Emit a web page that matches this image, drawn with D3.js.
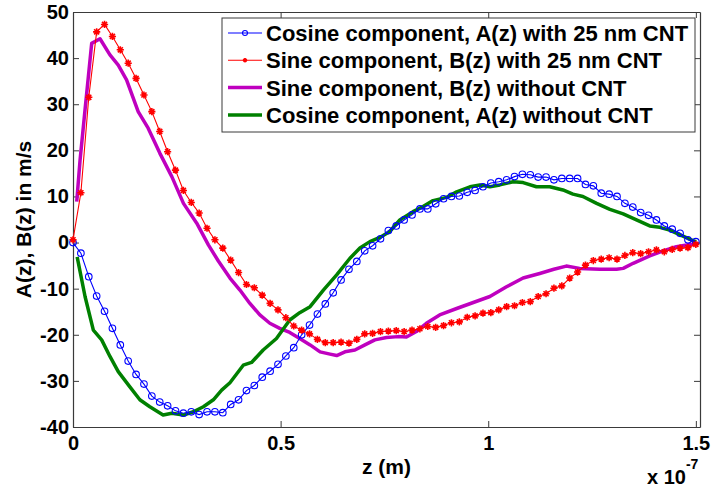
<!DOCTYPE html>
<html>
<head>
<meta charset="utf-8">
<script src="https://cdn.jsdelivr.net/npm/d3@7"></script>
<style>
  body { margin: 0; background: #fff; }
  text { font-family: "Liberation Sans", Arial, sans-serif; font-weight: bold; }
</style>
</head>
<body>
<div class="chart"></div>
<script>
// z values are in units of 1e-7 m
var cosCnt = [0, -2.3, -7.4, -11.6, -14.9, -18.6, -22.2, -25.7, -28.6, -30.7,
  -33.3, -34.6, -35.4, -36.5, -37.0, -36.7, -37.3, -36.7, -36.7, -36.9,
  -35.1, -34.1, -32.1, -31.0, -29.2, -27.9, -26.4, -24.6, -22.8, -20.0,
  -17.9, -15.5, -13.3, -10.9, -8.1, -5.8, -4.1, -1.8, -0.7, 0.8,
  2.6, 3.6, 4.9, 6.0, 7.3, 7.3, 8.4, 9.5, 10.0, 10.1,
  10.9, 11.3, 12.1, 12.9, 13.2, 13.6, 14.3, 14.8, 14.7, 14.2,
  14.2, 13.6, 13.9, 13.9, 13.9, 12.6, 12.3, 10.7, 10.5, 10.0,
  8.5, 7.7, 6.5, 5.9, 4.9, 3.6, 2.9, 2.0, 0.6, 0.2];

var sinCnt = [0.6, 10.8, 31.5, 45.7, 47.3, 44.7, 41.8, 38.9, 35.6, 32.0,
  28.4, 24.1, 19.7, 15.7, 11.3, 8.7, 6.4, 3.1, 0.6, -1.2,
  -3.8, -6.5, -9.1, -9.8, -11.4, -13.2, -14.6, -16.3, -18.1, -19.0,
  -19.8, -21.0, -21.7, -21.7, -21.6, -21.8, -21.0, -19.8, -19.7, -19.3,
  -19.2, -19.1, -19.3, -19.0, -18.7, -18.2, -18.4, -18.0, -17.4, -17.2,
  -16.2, -15.9, -15.3, -15.2, -14.6, -13.9, -13.7, -13.0, -12.8, -11.7,
  -11.1, -9.9, -9.4, -7.7, -6.4, -4.9, -3.9, -3.6, -3.3, -3.6,
  -2.8, -2.2, -2.4, -2.0, -1.6, -2.0, -1.5, -1.2, -1.1, -0.4];

// sample grid of the CNT runs: 80 points from 0 to 1.5
var zCnt = d3.range(cosCnt.length).map(i => i * 1.5 / (cosCnt.length - 1));

var zSinNo = [0.009, 0.017, 0.029, 0.037, 0.045, 0.065, 0.089, 0.109, 0.129, 0.157,
  0.181, 0.209, 0.238, 0.266, 0.298, 0.326, 0.350, 0.378, 0.402, 0.426,
  0.450, 0.474, 0.498, 0.522, 0.546, 0.571, 0.595, 0.619, 0.635, 0.655,
  0.679, 0.703, 0.727, 0.755, 0.783, 0.803, 0.827, 0.851, 0.883, 0.924,
  0.964, 1.004, 1.044, 1.084, 1.124, 1.158, 1.188, 1.220, 1.269, 1.309,
  1.325, 1.349, 1.389, 1.421, 1.453, 1.485, 1.503];
var sinNo = [8.9, 17.9, 28.8, 36.0, 43.2, 44.2, 40.7, 38.5, 35.3, 28.4,
  24.8, 19.4, 14.3, 8.5, 4.2, -0.5, -4.0, -7.7, -10.3, -13.2,
  -15.7, -17.5, -18.6, -19.5, -20.8, -22.2, -23.7, -24.2, -24.5, -23.7,
  -23.3, -22.2, -21.1, -20.6, -20.4, -20.5, -19.3, -17.5, -15.7, -14.3,
  -13.0, -11.7, -9.6, -7.7, -6.7, -5.8, -5.1, -5.6, -5.8, -5.8,
  -5.6, -4.5, -2.9, -1.8, -0.9, -0.4, -0.3];

var zCosNo = [0.010, 0.029, 0.049, 0.069, 0.089, 0.109, 0.137, 0.161, 0.185, 0.217,
  0.238, 0.266, 0.290, 0.314, 0.338, 0.358, 0.378, 0.410, 0.430, 0.458,
  0.490, 0.522, 0.546, 0.571, 0.603, 0.635, 0.667, 0.691, 0.715, 0.739,
  0.763, 0.787, 0.819, 0.843, 0.867, 0.900, 0.924, 0.956, 0.980, 1.004,
  1.028, 1.060, 1.084, 1.116, 1.148, 1.180, 1.204, 1.228, 1.261, 1.293,
  1.325, 1.357, 1.389, 1.413, 1.437, 1.469, 1.493, 1.501];
var cosNo = [-3.1, -11.7, -19.0, -21.1, -24.7, -28.0, -31.3, -34.1, -35.6, -37.4,
  -37.0, -37.4, -36.7, -35.6, -34.1, -32.0, -30.4, -26.6, -26.0, -23.3,
  -20.8, -16.8, -15.2, -13.9, -10.3, -7.0, -3.4, -1.2, 0.2, 1.1,
  2.4, 4.9, 6.7, 7.8, 9.1, 9.8, 11.0, 12.1, 12.5, 12.1,
  12.5, 13.2, 13.0, 12.1, 12.1, 11.4, 10.5, 10.0, 8.5, 7.2,
  6.2, 4.9, 3.6, 3.3, 2.7, 1.4, 0.4, 0.2];

var xTicks = [0, 0.5, 1, 1.5];
var yTicks = [-40, -30, -20, -10, 0, 10, 20, 30, 40, 50];
var legendLabels = [
  "Cosine component, A(z) with 25 nm CNT",
  "Sine component, B(z) with 25 nm CNT",
  "Sine component, B(z) without CNT",
  "Cosine component, A(z) without CNT"
];

var width = 711, height = 488;
var mLeft = 73, mRight = 700, mTop = 12, mBottom = 427;

var svg = d3.select(".chart").append("svg")
  .attr("width", width)
  .attr("height", height);

svg.append("rect").attr("width", width).attr("height", height).attr("fill", "#fff");

var x = d3.scaleLinear().domain([0, 1.51]).range([mLeft, mRight]);
var y = d3.scaleLinear().domain([-40, 50]).range([mBottom, mTop]);

// plain hyphen for negatives, like the original
var plainNum = d => String(d);

// axes, MATLAB style: ticks pointing inward, box all round
var axisColor = "#3a3a3a";
var gx = svg.append("g").attr("transform", `translate(0,${mBottom})`)
  .call(d3.axisBottom(x).tickValues(xTicks).tickFormat(plainNum).tickSizeInner(-6).tickSizeOuter(0).tickPadding(9));
var gy = svg.append("g").attr("transform", `translate(${mLeft},0)`)
  .call(d3.axisLeft(y).tickValues(yTicks).tickFormat(plainNum).tickSizeInner(-6).tickSizeOuter(0).tickPadding(4));
var gt = svg.append("g").attr("transform", `translate(0,${mTop})`)
  .call(d3.axisTop(x).tickValues(xTicks).tickFormat("").tickSizeInner(-6).tickSizeOuter(0));
var gr = svg.append("g").attr("transform", `translate(${mRight},0)`)
  .call(d3.axisRight(y).tickValues(yTicks).tickFormat("").tickSizeInner(-6).tickSizeOuter(0));

[gx, gy, gt, gr].forEach(g => {
  g.select(".domain").attr("stroke", axisColor).attr("stroke-width", 1.2);
  g.selectAll(".tick line").attr("stroke", axisColor);
  g.selectAll(".tick text").attr("fill", "#000").style("font-size", "20px")
    .style("font-family", '"Liberation Sans", Arial, sans-serif').style("font-weight", "bold");
});

// axis labels
svg.append("text").attr("x", (mLeft + mRight) / 2).attr("y", 474)
  .attr("text-anchor", "middle").style("font-size", "21px").text("z (m)");

var mult = svg.append("text").attr("x", 647).attr("y", 484).style("font-size", "20px");
mult.append("tspan").text("x 10");
mult.append("tspan").attr("dy", -15).style("font-size", "14px").text("-7");

svg.append("text")
  .attr("transform", `translate(31,${(mTop + mBottom) / 2}) rotate(-90)`)
  .attr("text-anchor", "middle").style("font-size", "21px")
  .text("A(z), B(z) in m/s");

// lines
var plot = svg.append("g");
var line = d3.line().x(d => x(d[0])).y(d => y(d[1]));

var cosCntPts = zCnt.map((z, i) => [z, cosCnt[i]]);
var sinCntPts = zCnt.map((z, i) => [z, sinCnt[i]]);
var sinNoPts = zSinNo.map((z, i) => [z, sinNo[i]]);
var cosNoPts = zCosNo.map((z, i) => [z, cosNo[i]]);

var star = r => `M${-r},0H${r}M0,${-r}V${r}M${-r * 0.7},${-r * 0.7}L${r * 0.7},${r * 0.7}M${-r * 0.7},${r * 0.7}L${r * 0.7},${-r * 0.7}`;

plot.append("path").attr("d", line(sinNoPts)).attr("fill", "none")
  .attr("stroke", "#bf00bf").attr("stroke-width", 3.5).attr("stroke-linejoin", "round");
plot.append("path").attr("d", line(cosNoPts)).attr("fill", "none")
  .attr("stroke", "#008000").attr("stroke-width", 3.5).attr("stroke-linejoin", "round");

plot.append("path").attr("d", line(cosCntPts)).attr("fill", "none")
  .attr("stroke", "#0000ff").attr("stroke-width", 1.1);
plot.selectAll(".circ").data(cosCntPts).enter().append("circle")
  .attr("cx", d => x(d[0])).attr("cy", d => y(d[1])).attr("r", 3.3)
  .attr("fill", "none").attr("stroke", "#0000ff").attr("stroke-width", 1.1);

plot.append("path").attr("d", line(sinCntPts)).attr("fill", "none")
  .attr("stroke", "#ff0000").attr("stroke-width", 1.1);
plot.selectAll(".star").data(sinCntPts).enter().append("path")
  .attr("transform", d => `translate(${x(d[0])},${y(d[1])})`)
  .attr("d", star(3.6)).attr("stroke", "#ff0000").attr("stroke-width", 1.6).attr("fill", "none");

// legend
var legend = svg.append("g");
legend.append("rect").attr("x", 222).attr("y", 18).attr("width", 473).attr("height", 114)
  .attr("fill", "#fff").attr("stroke", axisColor).attr("stroke-width", 1);

var legendStyle = [
  { color: "#0000ff", w: 1.1, mark: "circle" },
  { color: "#ff0000", w: 1.1, mark: "star" },
  { color: "#bf00bf", w: 3.5, mark: null },
  { color: "#008000", w: 3.5, mark: null }
];
legendLabels.forEach((lab, i) => {
  var ly = 33 + i * 27.3;
  var s = legendStyle[i];
  legend.append("line").attr("x1", 228).attr("x2", 262).attr("y1", ly).attr("y2", ly)
    .attr("stroke", s.color).attr("stroke-width", s.w);
  if (s.mark === "circle") {
    legend.append("circle").attr("cx", 245).attr("cy", ly).attr("r", 2.5)
      .attr("fill", "none").attr("stroke", s.color).attr("stroke-width", 1.1);
  } else if (s.mark === "star") {
    legend.append("path").attr("transform", `translate(245,${ly})`).attr("d", star(2.2))
      .attr("stroke", s.color).attr("stroke-width", 1.4);
  }
  legend.append("text").attr("x", 266).attr("y", ly).attr("dy", "0.36em")
    .style("font-size", "22px").text(lab);
});
</script>
</body>
</html>
